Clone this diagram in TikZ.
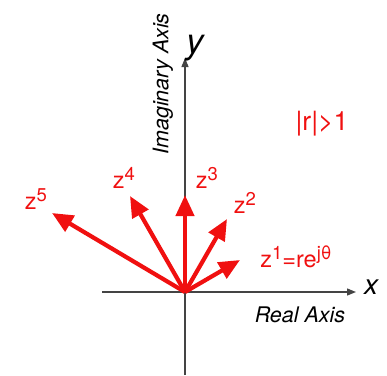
\documentclass[tikz,border=0pt]{standalone}
\usepackage{fontspec}
\setmainfont{TeX Gyre Heros}
\usetikzlibrary{arrows.meta}
\definecolor{axisgray}{HTML}{444444}
\definecolor{vecred}{HTML}{F01010}
\newcommand{\zpow}[1]{z\raisebox{8.5pt}{\fontsize{18.5}{18}\selectfont #1}}
\begin{document}
\begin{tikzpicture}[x=1pt,y=-1pt,
  axisline/.style={draw=axisgray,line width=1.3pt,-{Triangle[length=9pt,width=7pt]},color=axisgray},
  vec/.style={draw=vecred,line width=4.2pt,-{Triangle[length=21pt,width=18pt]}},
  zlabel/.style={text=vecred,font=\fontsize{23.5}{26}\selectfont,inner sep=0pt},
  axtitle/.style={font=\fontsize{21.5}{24}\selectfont\itshape,inner sep=0pt},
  axletter/.style={font=\itshape,inner sep=0pt}]
\useasboundingbox (0,0) rectangle (387,375);
% axes
\coordinate (O) at (185,292);
\coordinate (xs) at (102,292);
\coordinate (xe) at (356,292);
\coordinate (ys) at (185,375);
\coordinate (ye) at (185,58);
\draw[axisline] (xs) -- (xe);
\draw[axisline] (ys) -- (ye);
% axis labels
\node[axletter,font=\fontsize{28}{30}\selectfont\itshape] (xl) at (371,287) {x};
\node[axletter,font=\fontsize{35}{36}\selectfont\itshape] (yl) at (195,48) {y};
\node[axtitle] (ra) at (300,315) {Real Axis};
\node[axtitle,rotate=90] (ia) at (163,84) {Imaginary Axis};
\node[text=vecred,font=\fontsize{26.5}{28}\selectfont,inner sep=0pt] (rl) at (322,124) {|r|>1};
% vector tips
\coordinate (t1) at (240,260);
\coordinate (t2) at (227,219);
\coordinate (t3) at (185,195);
\coordinate (t4) at (130,196);
\coordinate (t5) at (52,213);
\draw[vec] (O) -- (t1);
\draw[vec] (O) -- (t2);
\draw[vec] (O) -- (t3);
\draw[vec] (O) -- (t4);
\draw[vec] (O) -- (t5);
% labels
\node[zlabel] (l5) at (36,199) {\zpow{5}};
\node[zlabel] (l4) at (124,178) {\zpow{4}};
\node[zlabel] (l3) at (207,178) {\zpow{3}};
\node[zlabel] (l2) at (245,203) {\zpow{2}};
\node[zlabel] (l1) at (296,257) {\zpow{1}=re\raisebox{8.5pt}{\fontsize{18.5}{18}\selectfont jθ}};
\end{tikzpicture}
\end{document}
